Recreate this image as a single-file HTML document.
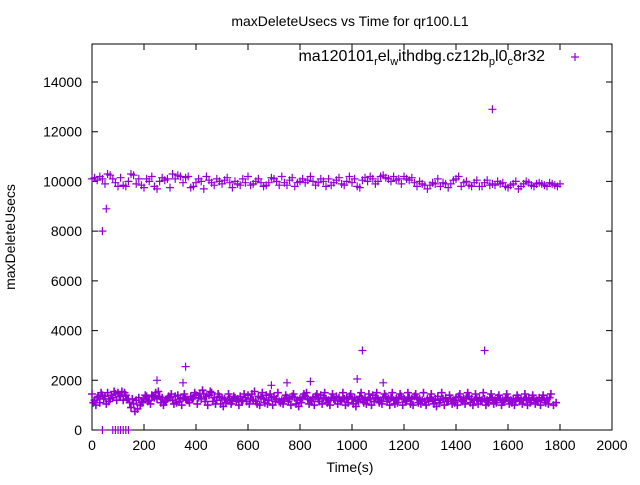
<!DOCTYPE html>
<html><head><meta charset="utf-8"><style>
body{margin:0;background:#fff}
svg text{font-family:"Liberation Sans",sans-serif;font-size:14px;fill:#000}
</style></head><body>
<svg id="chart" width="640" height="480" xmlns="http://www.w3.org/2000/svg">
<rect width="640" height="480" fill="#fff"/>
<text x="350" y="26" text-anchor="middle">maxDeleteUsecs vs Time for qr100.L1</text>
<text transform="translate(15,237) rotate(-90)" text-anchor="middle">maxDeleteUsecs</text>
<text x="350" y="472" text-anchor="middle">Time(s)</text>
<g id="axes"></g>
<g id="pts"></g>
<g>
<text x="545" y="61" text-anchor="end" style="font-size:16px">ma120101<tspan font-size="11" dy="4">r</tspan><tspan dy="-4">el</tspan><tspan font-size="11" dy="4">w</tspan><tspan dy="-4">ithdbg.cz12b</tspan><tspan font-size="11" dy="4">p</tspan><tspan dy="-4">l0</tspan><tspan font-size="11" dy="4">c</tspan><tspan dy="-4">8r32</tspan></text>
<path d="M571 57h8M575 53v8" stroke="#9400d3" stroke-width="1.2"/>
</g>
</svg>
<script>
const xTicks=[0,200,400,600,800,1000,1200,1400,1600,1800,2000];
const yTicks=[0,2000,4000,6000,8000,10000,12000,14000];
const upper=[10100,10150,10050,10200,10100,9900,10300,10250,10100,9950,9800,10150,9850,9800,10000,10300,10250,9900,10100,9850,9750,10100,10000,10200,9800,9700,10000,10150,10050,10100,9750,10300,10100,10250,10200,9950,10150,10200,9750,9800,9950,10100,10000,9700,10200,10050,9950,9850,10100,10000,9900,10050,10150,9950,9750,10000,9900,9850,10100,9950,10200,9850,9900,10000,10100,9950,9800,9850,9950,10150,10100,10000,9850,10200,9950,9850,10050,10150,9800,9950,10000,10100,9950,10050,10200,10000,9850,9950,10100,10000,9800,10100,9850,9950,10050,10150,9900,9850,10000,10200,9950,10100,9800,9750,10050,10150,10000,10200,10100,9900,10000,10200,10250,10150,10100,10000,10200,10050,10100,9900,10200,10100,10050,10150,9950,9800,10000,9900,9850,9700,9850,9950,9900,10100,9800,9950,9900,9750,9900,10050,10100,10200,9800,9950,10000,9850,9800,9950,10050,9800,9800,9950,10050,9850,9900,9850,10000,9900,9950,9800,9750,9850,9900,10000,9700,9800,9900,10000,9950,9850,9800,9900,9950,9900,9850,9800,9950,9900,9850,9800,9900];
const lowA=[1450,1200,1300,1100,1400,1350,1500,1250,1300,1450,1500,1350,1200,1400,1250,900,1050,1200,1300,1100,1250,1350,1200,1400,1300,1250,1350,1300,1150,1250,1300,1200,1350,1400,1250,1300,1250,1200,1350,1300,1400,1300,1250,1450,1350,1400,1500,1300,1200,1350,1300,1250,1200,1250,1150,1300,1250,1350,1200,1300,1400,1250,1200,1150,1350,1300,1250,1400,1200,1300,1350,1250,1150,1200,1250,1300,1250,1350,1300,1200,1250,1300,1350,1250,1200,1300,1350,1250,1400,1300,1250,1200,1300,1250,1350,1300,1200,1250,1300,1350,1250,1300,1200,1350,1250,1300,1200,1250,1400,1300,1250,1200,1300,1350,1250,1300,1200,1250,1300,1350,1250,1200,1300,1250,1350,1300,1250,1200,1150,1250,1300,1200,1250,1350,1200,1250,1300,1150,1250,1200,1300,1350,1200,1250,1300,1350,1250,1200,1250,1300,1200,1250,1200,1300,1250,1200,1300,1250,1200,1250,1300,1200,1250,1200,1300,1250,1200,1250,1300,1200,1250,1200,1300,1250,1200,1250,1300];
const lowB=[1100,1000,1350,1500,1250,1050,1150,1400,1550,1200,1350,1550,1500,1250,1100,1250,750,850,1000,1100,1400,1150,1050,1350,1500,1550,1100,1000,1200,1350,1450,1050,1100,1150,1000,1450,1200,1100,1250,1500,1050,1450,1600,1150,1000,1550,1150,1050,1450,1050,950,1100,1450,1050,1350,1200,1000,1150,1450,1150,1050,1450,1550,1050,1000,1500,1100,1050,1450,1000,1150,1500,1100,1050,1400,1150,1000,1450,1050,950,1100,1450,1500,1050,1150,1000,1450,1150,1050,1500,1100,1000,1450,1200,1050,1150,1500,1000,1100,1450,1050,950,1150,1500,1100,1050,1450,1000,1150,1500,1100,1050,1450,1150,1000,1500,1050,1100,1450,1000,1150,1500,1050,1000,1450,1100,1050,1500,1000,1150,1450,1050,950,1100,1500,1000,1150,1400,1050,1100,1000,1450,1150,1050,1500,1100,1000,1450,1050,1150,1500,1000,1100,1450,1050,1100,1400,1000,1150,1450,1050,1100,1000,1400,1150,1050,1450,1000,1100,1400,1050,1150,1000,1400,1100,1050,1450,1000,1100];
const outX=[40,55,250,350,360,1020,1040,1120,690,750,840,1510,1540,40,80,90,100,110,120,130,140];
const outY=[8000,8900,2000,1900,2550,2050,3200,1900,1800,1900,1950,3200,12900,0,0,0,0,0,0,0,0];
const X0=92,X1=612,Y0=430,YT=44;
const sx=v=>X0+v*(X1-X0)/2000;
const sy=v=>Y0-v*(Y0-82)/14000;
const NS="http://www.w3.org/2000/svg";
const ax=document.getElementById('axes');
function mk(tag,at,parent){const e=document.createElementNS(NS,tag);for(const k in at)e.setAttribute(k,at[k]);parent.appendChild(e);return e;}
const border=mk('rect',{x:X0,y:YT,width:X1-X0,height:Y0-YT,fill:'none',stroke:'#000','stroke-width':1},ax);


xTicks.forEach(t=>{const x=sx(t);
const l=mk('path',{d:`M${x} ${Y0}v-6M${x} ${YT}v6`,stroke:'#000'},ax);


const tx=mk('text',{x:x,y:Y0+20,'text-anchor':'middle'},ax);tx.textContent=t;

});
yTicks.forEach(t=>{const y=sy(t);
const l=mk('path',{d:`M${X0} ${y}h6M${X1} ${y}h-6`,stroke:'#000'},ax);


const tx=mk('text',{x:X0-10,y:y+5,'text-anchor':'end'},ax);tx.textContent=t;

});
const pg=document.getElementById('pts');
let d='';
function add(t,v){const x=sx(t),y=sy(v);d+=`M${(x-4).toFixed(1)} ${y.toFixed(1)}h8M${x.toFixed(1)} ${(y-4).toFixed(1)}v8`;}
upper.forEach((v,i)=>add(i*10,v));
outX.forEach((t,i)=>add(t,outY[i]));
const p=mk('path',{d:d,stroke:'#9400d3','stroke-width':1.2,fill:'none'},pg);


let d2='';
lowA.forEach((v,i)=>{const x=sx(i*10),y=sy(v);d2+=`M${(x-4).toFixed(1)} ${y.toFixed(1)}h8M${x.toFixed(1)} ${(y-4).toFixed(1)}v8`;});
lowB.forEach((v,i)=>{const x=sx(i*10+5),y=sy(v);d2+=`M${(x-4).toFixed(1)} ${y.toFixed(1)}h8M${x.toFixed(1)} ${(y-4).toFixed(1)}v8`;});
const p2=mk('path',{d:d2,stroke:'#9400d3','stroke-width':1.6,fill:'none'},pg);


</script>
</body></html>
